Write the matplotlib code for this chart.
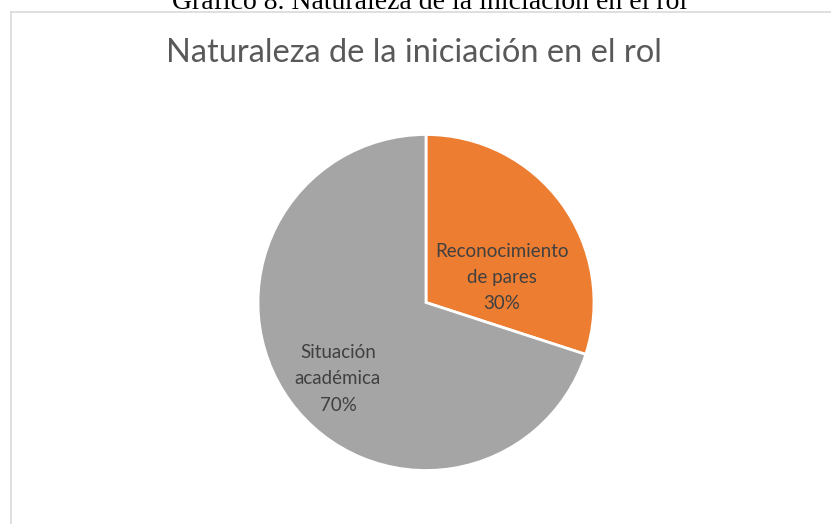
import matplotlib
matplotlib.use("Agg")
import matplotlib.pyplot as plt
from matplotlib.lines import Line2D

caption = "Gráfico 8. Naturaleza de la iniciación en el rol"
title = "Naturaleza de la iniciación en el rol"
categories = ["Reconocimiento\nde pares", "Situación\nacadémica"]
values = [30, 70]
colors = ["#ED7D31", "#A5A5A5"]

W, H = 831, 524
fig = plt.figure(figsize=(W / 100, H / 100), dpi=100)
fig.patch.set_facecolor("white")

# caption (clipped at top)
fig.text(430 / W, 1 - 8.8 / H, caption, ha="center", va="baseline",
         fontsize=20, family="Liberation Serif", color="black")

# chart border (left & top)
fig.add_artist(Line2D([10.5 / W, 10.5 / W], [0, 1 - 11.5 / H], color="#D9D9D9", lw=1.2, transform=fig.transFigure))
fig.add_artist(Line2D([10.5 / W, 1], [1 - 11.5 / H, 1 - 11.5 / H], color="#D9D9D9", lw=1.2, transform=fig.transFigure))

fig.text(414 / W, 1 - 53 / H, title, ha="center", va="center",
         fontsize=23.5, family="Lato", color="#595959")

cx, cy, rx, ry = 426, 302.5, 168, 172.5
ax = fig.add_axes([(cx - rx) / W, 1 - (cy + ry) / H, 2 * rx / W, 2 * ry / H])
ax.set_aspect("auto")
wedges, _ = ax.pie(values, colors=colors, startangle=90, counterclock=False,
                   wedgeprops=dict(edgecolor="white", linewidth=2))
ax.set_xlim(-1, 1)
ax.set_ylim(-1, 1)
ax.axis("off")

label_pos = [(0.45, 0.148), (-0.524, -0.455)]
for cat, v, (x, y) in zip(categories, values, label_pos):
    ax.text(x, y, f"{cat}\n{v}%", ha="center", va="center", fontsize=13.5,
            family="Lato", color="#404040", linespacing=1.65)

fig.savefig("out.png", dpi=100)
